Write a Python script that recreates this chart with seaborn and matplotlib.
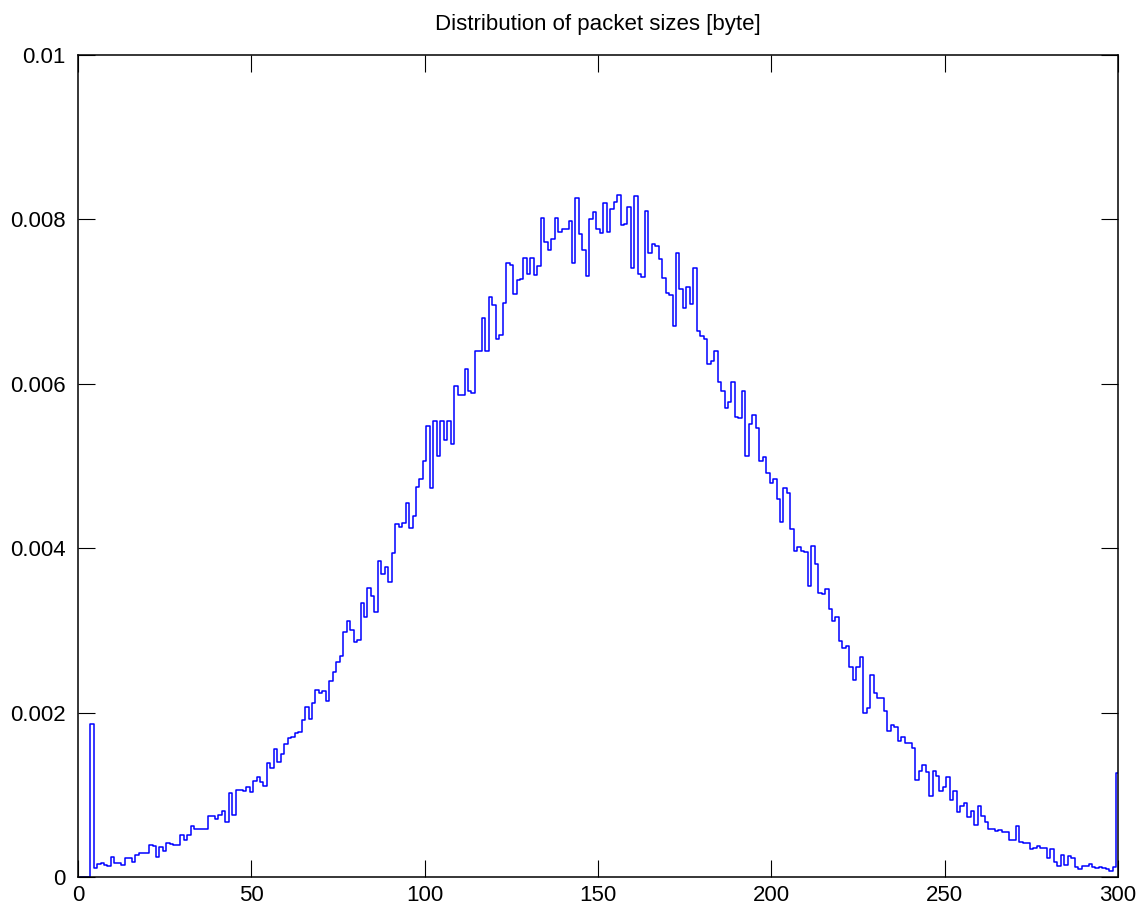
import numpy as np
import pandas as pd
import matplotlib
matplotlib.use("Agg")
import matplotlib.pyplot as plt
import seaborn as sns
from matplotlib.ticker import FuncFormatter

# packet sizes (bin centres, byte)
sizes = list(range(1, 301))

# relative frequency, in units of 1e-4, for sizes 1..300
freq_e4 = [
    0, 0, 0, 18.6, 1.13, 1.58, 1.66, 1.4, 1.34, 2.39,
    1.66, 1.66, 1.46, 2.31, 2.31, 1.78, 2.72, 2.88, 2.96, 2.96,
    3.85, 3.77, 2.47, 3.69, 3.2, 4.1, 3.97, 3.89, 3.89, 5.07,
    4.5, 5.07, 6.24, 5.9, 5.8, 5.8, 5.8, 7.46, 7.46, 7.02,
    7.54, 8.03, 6.73, 10.18, 7.5, 10.6, 10.6, 10.5, 11.0, 10.4,
    11.7, 12.13, 11.6, 11.11, 13.9, 13.3, 15.53, 14.03, 14.96, 16.14,
    16.87, 17.07, 17.48, 17.68, 19.1, 20.64, 19.22, 21.2, 22.75, 22.34,
    22.63, 21.45, 23.88, 24.98, 26.12, 26.92, 29.84, 31.18, 30.05, 28.63,
    28.83, 33.3, 31.59, 35.12, 34.18, 32.24, 38.48, 36.82, 37.67, 35.85,
    39.46, 42.94, 42.62, 43.03, 45.46, 42.41, 43.92, 47.4, 48.42, 50.6,
    54.87, 47.36, 55.5, 51.2, 55.5, 53.2, 55.5, 52.7, 59.77, 58.6,
    58.6, 61.76, 59.16, 58.9, 64.03, 64.03, 67.97, 63.99, 70.6, 69.6,
    65.5, 65.9, 69.8, 74.7, 74.4, 70.9, 72.6, 72.7, 75.3, 73.3,
    75.3, 73.2, 74.3, 80.13, 77.2, 76.28, 77.58, 80.13, 78.5, 78.79,
    78.79, 79.85, 74.66, 82.56, 78.22, 76.28, 73.11, 80.0, 80.94, 78.79,
    78.38, 81.95, 78.42, 81.22, 82.08, 82.97, 79.3, 79.5, 81.45, 74.05,
    82.85, 73.36, 72.95, 81.06, 75.95, 77.0, 76.8, 75.18, 72.9, 71.08,
    70.8, 67.03, 75.95, 71.53, 69.26, 71.82, 69.7, 74.05, 66.46, 65.86,
    65.45, 62.4, 62.8, 64.0, 60.18, 59.16, 57.0, 57.8, 60.26, 56.0,
    55.8, 59.16, 51.2, 55.1, 56.2, 54.66, 50.6, 51.06, 49.2, 47.9,
    48.4, 45.95, 43.15, 47.29, 46.68, 42.34, 39.7, 40.1, 39.66, 39.5,
    35.4, 40.27, 38.08, 34.6, 34.4, 35.0, 32.6, 31.14, 31.67, 28.7,
    27.8, 28.14, 25.5, 23.97, 25.5, 26.72, 19.99, 20.6, 24.57, 22.42,
    21.8, 21.8, 20.23, 17.8, 18.49, 18.2, 16.58, 17.0, 16.34, 16.34,
    15.65, 11.8, 12.93, 13.63, 12.83, 9.85, 12.93, 12.29, 10.5, 10.99,
    12.2, 9.37, 10.46, 7.87, 8.64, 8.96, 7.34, 8.07, 6.33, 8.68,
    7.48, 6.73, 5.84, 5.84, 5.6, 5.68, 5.52, 5.52, 4.5, 4.5,
    6.24, 4.22, 4.18, 4.18, 3.37, 3.49, 3.81, 3.49, 3.49, 2.27,
    3.41, 1.86, 1.38, 2.68, 1.46, 2.6, 2.27, 1.26, 0.97, 1.38,
    1.38, 1.54, 1.26, 1.05, 1.26, 1.05, 0.93, 0.77, 1.26, 12.7,
]

x_ticks = [0, 50, 100, 150, 200, 250, 300]
y_ticks = [0, 0.002, 0.004, 0.006, 0.008, 0.01]
title = "Distribution of packet sizes [byte]"

df = pd.DataFrame({"size": sizes, "freq": np.array(freq_e4) * 1e-4})

sns.set_theme(style="white")
plt.rcParams["font.family"] = ["Liberation Sans", "DejaVu Sans"]

fig = plt.figure(figsize=(11.43, 9.10), dpi=100)
ax = fig.add_axes([78 / 1143, 1 - 877 / 910, (1118 - 78) / 1143, (877 - 55) / 910])

sns.histplot(data=df, x="size", weights="freq", binwidth=1, binrange=(0.5, 300.5),
             element="step", fill=False, color="#0000ff", linewidth=1.1, ax=ax)

ax.set_xlim(0, 300)
ax.set_ylim(0, 0.01)
ax.set_xticks(x_ticks)
ax.set_yticks(y_ticks)
ax.yaxis.set_major_formatter(FuncFormatter(lambda v, _: f"{v:g}"))
ax.set_xlabel("")
ax.set_ylabel("")
ax.set_title(title, fontsize=16, pad=18, color="black")

ax.tick_params(axis="both", which="major", direction="in", length=12, width=0.8,
               color="black", labelsize=16, labelcolor="black",
               top=True, right=True, bottom=True, left=True)
ax.tick_params(axis="y", pad=9)
ax.tick_params(axis="x", pad=6)
for s in ax.spines.values():
    s.set_visible(True)
    s.set_color("black")
    s.set_linewidth(1.1)
ax.grid(False)
ax.set_facecolor("white")
fig.patch.set_facecolor("white")

fig.savefig("out.png", dpi=100)
